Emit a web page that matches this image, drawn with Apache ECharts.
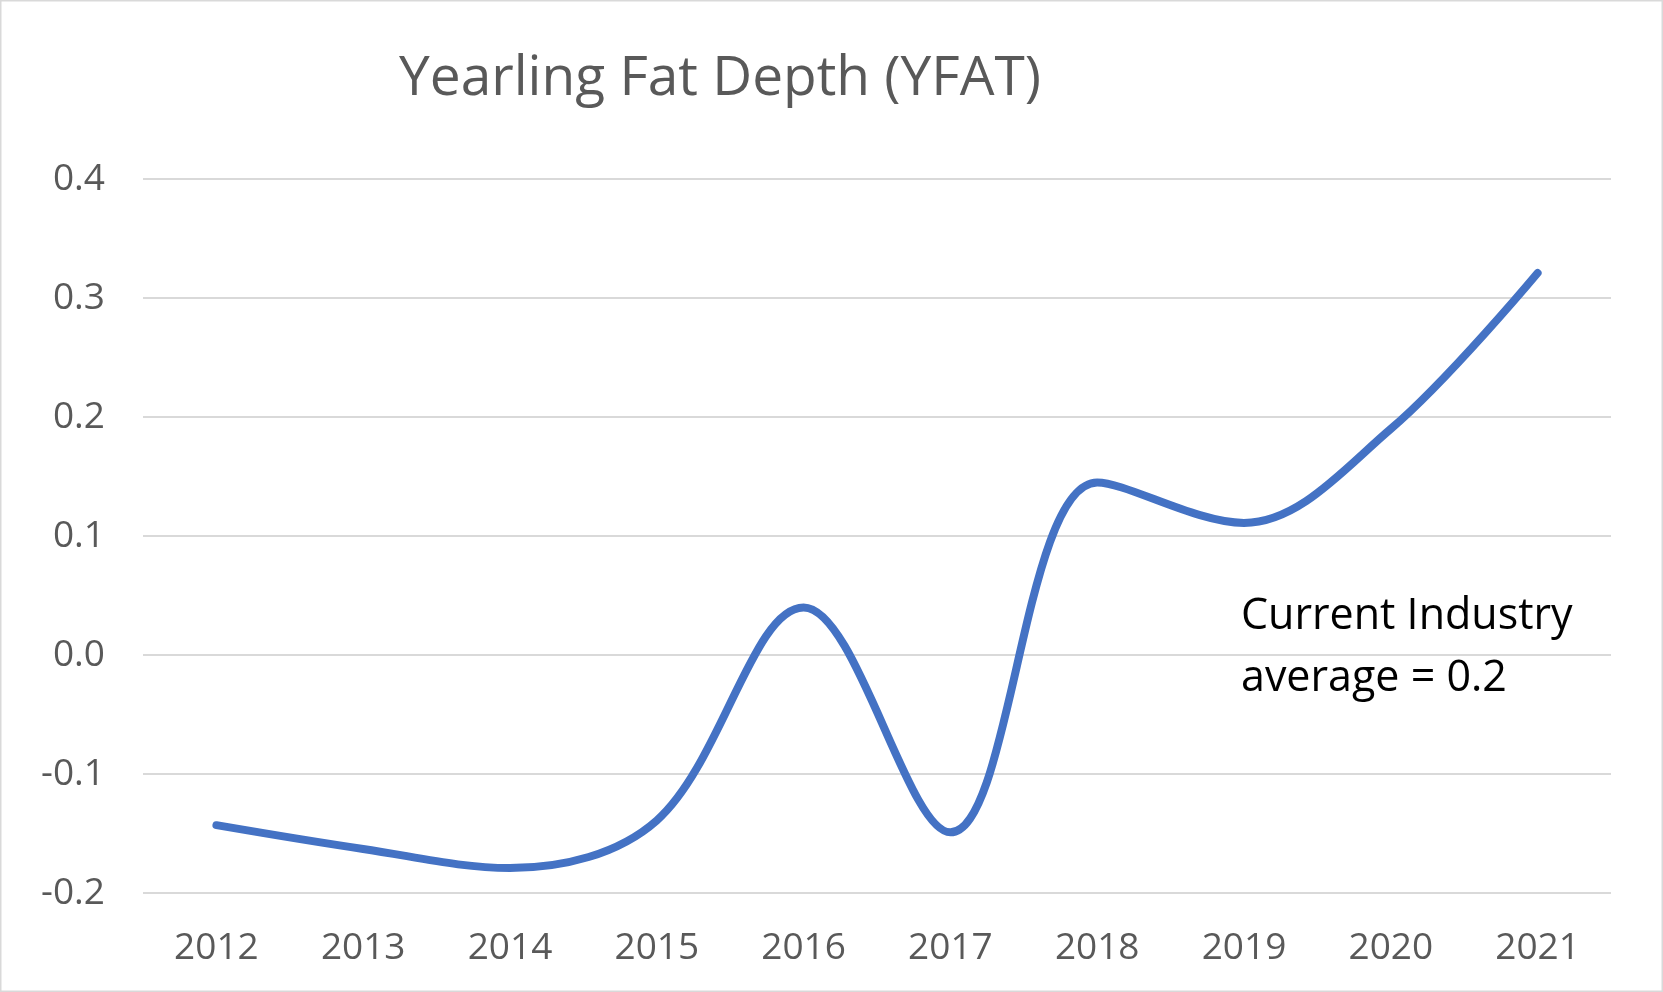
<!DOCTYPE html>
<html><head><meta charset="utf-8">
<script src="https://cdn.jsdelivr.net/npm/echarts@6/dist/echarts.min.js"></script>
<style>html,body{margin:0;padding:0;background:#fff}#c{width:1663px;height:992px}</style>
</head><body><div id="c"></div>
<script>
const years = ['2012','2013','2014','2015','2016','2017','2018','2019','2020','2021'];
const yfat = [-0.143, -0.163, -0.179, -0.139, 0.04, -0.149, 0.145, 0.111, 0.19, 0.321];
const titleText = 'Yearling Fat Depth (YFAT)';
const noteLines = ['Current Industry', 'average = 0.2'];

const FONT = '"Open Sans", "Noto Sans", sans-serif';
const chart = echarts.init(document.getElementById('c'), null, {renderer: 'canvas'});
chart.setOption({
  backgroundColor: '#fff',
  animation: false,
  title: {
    text: titleText, left: 715, top: 47, textAlign: 'center',
    textStyle: {fontFamily: FONT, fontSize: 55, fontWeight: 'normal', color: '#595959'}
  },
  grid: {left: 143, right: 52, top: 179, bottom: 99, containLabel: false},
  xAxis: {
    type: 'category', data: years, boundaryGap: true,
    axisLine: {show: false}, axisTick: {show: false},
    axisLabel: {fontFamily: FONT, fontSize: 37, color: '#595959', margin: 37}
  },
  yAxis: {
    type: 'value', min: -0.2, max: 0.4, interval: 0.1,
    axisLine: {show: false}, axisTick: {show: false},
    axisLabel: {fontFamily: FONT, fontSize: 37, color: '#595959', margin: 38,
      formatter: v => v.toFixed(1)},
    splitLine: {lineStyle: {color: '#d9d9d9', width: 2}}
  },
  series: [{
    type: 'line', data: yfat, smooth: 0.35, symbol: 'none',
    lineStyle: {color: '#4472C4', width: 8, cap: 'round'}
  }],
  graphic: [
    {type: 'rect', shape: {x: 0.5, y: 0.5, width: 1662, height: 991},
     style: {fill: 'none', stroke: '#d9d9d9', lineWidth: 2}},
    {type: 'text', left: 1241, top: 586,
     style: {text: noteLines.join('\n'), fontFamily: FONT, fontSize: 43, fill: '#000', lineHeight: 62}}
  ]
});
</script></body></html>
